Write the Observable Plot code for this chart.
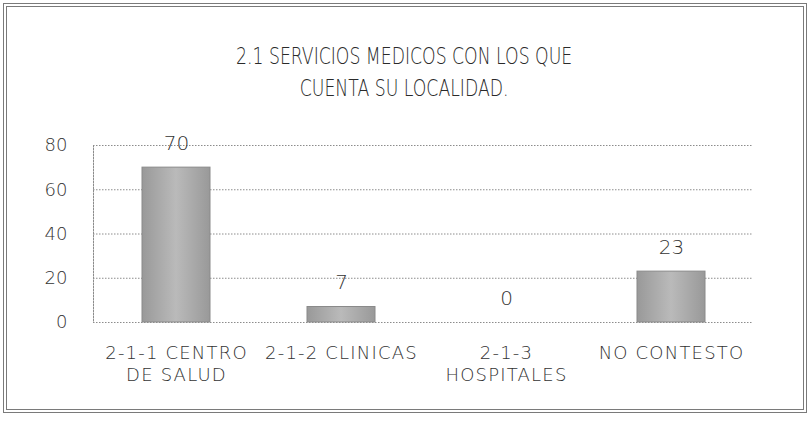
<!DOCTYPE html>
<html>
<head>
<meta charset="utf-8">
<script src="https://cdn.jsdelivr.net/npm/d3@7"></script>
<script src="https://cdn.jsdelivr.net/npm/@observablehq/plot@0.6"></script>
<style>
  html, body { margin: 0; padding: 0; background: #fff; }
  #wrap { position: relative; width: 809px; height: 423px; overflow: hidden; }
  #box { position: absolute; left: 3px; top: 3px; width: 796px; height: 402px; border: 4px double #7a7a7a; }
  #title { position: absolute; left: 0; width: 809px; top: 40px; text-align: center;
           font-family: "DejaVu Sans", sans-serif; font-weight: 200; font-size: 23px; line-height: 32px; color: #2a2a2a; }
  #title span { display: inline-block; transform: scaleX(0.75); transform-origin: center; white-space: nowrap; }
  #chart { position: absolute; left: 0; top: 120px; }
  #chart g[aria-label="x-axis tick label"] text { letter-spacing: 1.2px; }
</style>
</head>
<body>
<div id="wrap">
  <div id="box"></div>
  <div id="title"><span>2.1 SERVICIOS MEDICOS CON LOS QUE</span><br><span>CUENTA SU LOCALIDAD.</span></div>
  <div id="chart"></div>
</div>
<script>
const categories = ["2-1-1 CENTRO DE SALUD", "2-1-2 CLINICAS", "2-1-3 HOSPITALES", "NO CONTESTO"];
const tickLabels = ["2-1-1 CENTRO\nDE SALUD", "2-1-2 CLINICAS", "2-1-3\nHOSPITALES", "NO CONTESTO"];
const values = [70, 7, 0, 23];
const yTicks = [0, 20, 40, 60, 80];

const data = categories.map((c, i) => ({cat: c, value: values[i]}));
const font = "'DejaVu Sans', sans-serif";

const chart = Plot.plot({
  width: 809,
  height: 290,
  marginTop: 25,
  marginBottom: 88,
  marginLeft: 93,
  marginRight: 56,
  style: {fontFamily: font, fontWeight: 200, background: "transparent", color: "#333", overflow: "visible"},
  x: {domain: categories, paddingInner: 0.59, paddingOuter: 0.295},
  y: {domain: [0, 80]},
  marks: [
    Plot.ruleY(yTicks, {stroke: "#8c8c8c", strokeDasharray: "1.5,1.5"}),
    Plot.frame({anchor: "left", stroke: "#8c8c8c", strokeDasharray: "1.5,1.5"}),
    Plot.barY(data, {x: "cat", y: "value", fill: "url(#barGrad)", stroke: "#8a8a8a", strokeWidth: 1}),
    Plot.text(data, {x: "cat", y: "value", text: d => String(d.value), dy: -24, fontSize: 20, fill: "#333"}),
    Plot.axisX({label: null, tickSize: 0, tickPadding: 22, fontSize: 18, lineHeight: 1.17,
                tickFormat: d => tickLabels[categories.indexOf(d)]}),
    Plot.axisY(yTicks, {label: null, tickSize: 0, tickPadding: 26, fontSize: 18})
  ]
});

const svg = d3.select(chart);
const grad = svg.insert("defs", ":first-child").append("linearGradient")
  .attr("id", "barGrad").attr("x1", "0").attr("x2", "1").attr("y1", "0").attr("y2", "0");
grad.append("stop").attr("offset", "0").attr("stop-color", "#999");
grad.append("stop").attr("offset", "0.5").attr("stop-color", "#bababa");
grad.append("stop").attr("offset", "1").attr("stop-color", "#999");
document.getElementById("chart").appendChild(chart);
</script>
</body>
</html>
